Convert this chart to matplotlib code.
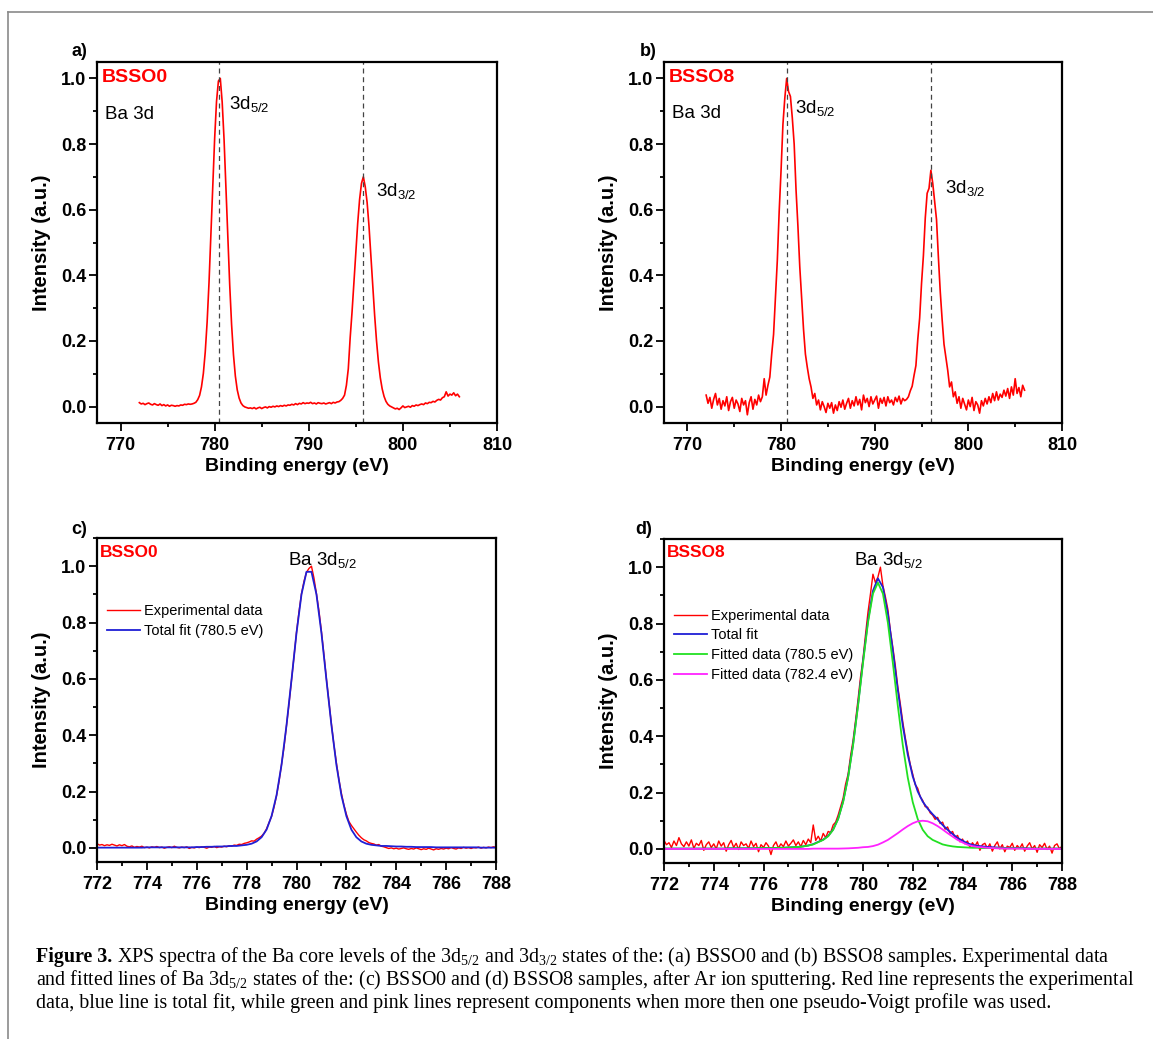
import numpy as np
import matplotlib
matplotlib.use("Agg")
import matplotlib.pyplot as plt
from matplotlib.lines import Line2D
from matplotlib.ticker import MultipleLocator, FormatStrFormatter

plt.rcParams['font.family'] = ['Liberation Sans', 'DejaVu Sans']
plt.rcParams['mathtext.default'] = 'regular'

# ---------------- data ----------------
# (a)/(b) survey of Ba 3d, 0.2 eV step
energy_wide = np.round(np.arange(772.0, 806.0 + 1e-6, 0.2), 1)
int_bsso0_wide = [
    0.012, 0.008, 0.010, 0.006, 0.009, 0.011, 0.007, 0.005, 0.009, 0.006,
    0.004, 0.008, 0.003, 0.006, 0.002, 0.005, 0.001, 0.004, 0.003, 0.001,
    0.003, 0.002, 0.005, 0.004, 0.007, 0.006, 0.008, 0.007, 0.008, 0.010,
    0.013, 0.021, 0.034, 0.060, 0.101, 0.166, 0.257, 0.377, 0.521, 0.673,
    0.817, 0.930, 0.992, 1.000, 0.928, 0.814, 0.668, 0.515, 0.371, 0.250,
    0.158, 0.093, 0.051, 0.026, 0.011, 0.003, -0.001, -0.003, -0.005, -0.004,
    -0.006, -0.003, -0.007, -0.004, -0.002, -0.006, -0.003, -0.001, -0.004, 0.000,
    -0.002, 0.001, -0.001, 0.002, 0.000, 0.003, 0.001, 0.004, 0.002, 0.005,
    0.004, 0.007, 0.005, 0.009, 0.006, 0.010, 0.008, 0.012, 0.009, 0.011,
    0.010, 0.013, 0.009, 0.011, 0.008, 0.012, 0.010, 0.009, 0.011, 0.008,
    0.010, 0.012, 0.009, 0.013, 0.011, 0.014, 0.015, 0.019, 0.025, 0.035,
    0.065, 0.115, 0.210, 0.289, 0.378, 0.470, 0.559, 0.631, 0.680, 0.700,
    0.670, 0.622, 0.550, 0.460, 0.368, 0.278, 0.200, 0.136, 0.088, 0.054,
    0.031, 0.016, 0.007, 0.002, -0.001, -0.004, -0.007, -0.005, -0.009, -0.004,
    0.002, -0.003, -0.001, 0.001, -0.002, 0.003, 0.001, 0.005, 0.003, 0.006,
    0.008, 0.006, 0.011, 0.009, 0.013, 0.012, 0.016, 0.014, 0.019, 0.022,
    0.020, 0.027, 0.030, 0.045, 0.032, 0.038, 0.035, 0.042, 0.033, 0.038,
    0.030,
]
int_bsso8_wide = [
    0.035, 0.010, 0.028, -0.005, 0.022, 0.040, 0.005, 0.025, -0.008, 0.018,
    0.002, 0.030, -0.012, 0.015, 0.028, -0.005, 0.020, 0.008, -0.015, 0.025,
    0.005, 0.018, -0.025, 0.012, 0.030, -0.008, 0.022, 0.005, 0.035, 0.015,
    0.030, 0.085, 0.035, 0.065, 0.090, 0.160, 0.220, 0.335, 0.445, 0.595,
    0.720, 0.860, 0.940, 1.000, 0.960, 0.945, 0.880, 0.800, 0.660, 0.550,
    0.425, 0.330, 0.235, 0.160, 0.120, 0.085, 0.060, 0.025, 0.040, 0.005,
    0.020, -0.010, 0.015, 0.000, -0.018, 0.010, -0.005, 0.012, -0.020, 0.005,
    -0.012, 0.015, -0.002, 0.020, -0.008, 0.010, 0.025, -0.005, 0.018, 0.002,
    0.030, 0.005, 0.022, -0.010, 0.035, 0.012, 0.025, 0.000, 0.030, 0.008,
    0.020, 0.032, -0.005, 0.025, 0.010, 0.028, 0.002, 0.030, 0.012, 0.020,
    0.005, 0.028, 0.015, 0.032, 0.008, 0.025, 0.018, 0.022, 0.030, 0.048,
    0.062, 0.095, 0.125, 0.205, 0.270, 0.375, 0.460, 0.575, 0.650, 0.665,
    0.720, 0.680, 0.625, 0.570, 0.455, 0.350, 0.265, 0.190, 0.150, 0.110,
    0.060, 0.075, 0.030, 0.045, 0.010, 0.030, -0.005, 0.025, 0.008, -0.010,
    0.020, 0.000, 0.028, -0.012, 0.015, 0.005, -0.020, 0.018, 0.002, 0.025,
    0.008, 0.030, 0.012, 0.040, 0.018, 0.045, 0.020, 0.038, 0.028, 0.050,
    0.032, 0.055, 0.025, 0.060, 0.035, 0.085, 0.040, 0.058, 0.030, 0.065,
    0.050,
]
peak_lines_bsso0 = [780.5, 795.8]
peak_lines_bsso8 = [780.6, 796.0]

# (c)/(d) Ba 3d5/2 after sputtering
energy_exp = np.round(np.arange(772.0, 788.0 + 1e-6, 0.1), 1)
energy_fit = np.round(np.arange(772.0, 788.0 + 1e-6, 0.2), 1)

exp_bsso0 = [
    0.015, 0.010, 0.012, 0.008, 0.011, 0.009, 0.013, 0.010, 0.007, 0.011,
    0.008, 0.012, 0.006, 0.004, 0.007, 0.002, 0.005, 0.003, 0.006, 0.001,
    0.003, 0.000, 0.004, 0.002, 0.005, 0.001, 0.003, -0.001, 0.002, 0.004,
    0.001, 0.006, 0.002, 0.000, 0.003, 0.001, 0.004, -0.002, 0.002, 0.000,
    0.003, 0.001, 0.004, 0.002, -0.001, 0.003, 0.002, 0.005, 0.001, 0.004,
    0.003, 0.006, 0.004, 0.008, 0.006, 0.010, 0.009, 0.013, 0.012, 0.016,
    0.018, 0.021, 0.025, 0.024, 0.031, 0.036, 0.042, 0.052, 0.068, 0.090,
    0.112, 0.145, 0.186, 0.236, 0.297, 0.358, 0.434, 0.512, 0.594, 0.679,
    0.765, 0.838, 0.902, 0.946, 0.978, 0.992, 1.000, 0.958, 0.902, 0.842,
    0.768, 0.686, 0.600, 0.520, 0.440, 0.366, 0.302, 0.243, 0.194, 0.153,
    0.120, 0.094, 0.080, 0.068, 0.056, 0.045, 0.036, 0.029, 0.025, 0.019,
    0.016, 0.014, 0.010, 0.012, 0.006, 0.004, 0.001, -0.002, 0.000, -0.003,
    -0.001, -0.004, -0.002, 0.000, -0.003, -0.005, -0.002, -0.004, 0.000, -0.003,
    -0.006, -0.003, -0.005, -0.001, -0.004, -0.007, -0.003, -0.005, -0.002, -0.004,
    -0.001, -0.003, 0.001, -0.002, -0.004, 0.000, -0.002, 0.002, -0.001, 0.001,
    -0.002, 0.001, 0.000, 0.003, -0.001, 0.002, 0.000, 0.003, 0.001, 0.004,
    0.002,
]
fit_bsso0 = [
    0.001, 0.001, 0.001, 0.001, 0.001, 0.001, 0.001, 0.001, 0.001, 0.001,
    0.002, 0.002, 0.002, 0.002, 0.002, 0.002, 0.002, 0.002, 0.002, 0.002,
    0.003, 0.003, 0.004, 0.004, 0.005, 0.005, 0.006, 0.007, 0.007, 0.009,
    0.011, 0.015, 0.023, 0.038, 0.065, 0.113, 0.187, 0.295, 0.436, 0.597,
    0.763, 0.900, 0.980, 0.980, 0.900, 0.763, 0.597, 0.436, 0.295, 0.187,
    0.113, 0.065, 0.038, 0.023, 0.015, 0.011, 0.009, 0.007, 0.007, 0.006,
    0.005, 0.005, 0.004, 0.004, 0.003, 0.003, 0.003, 0.003, 0.002, 0.002,
    0.002, 0.002, 0.002, 0.002, 0.002, 0.002, 0.002, 0.001, 0.001, 0.001,
    0.001,
]
exp_bsso8 = [
    0.030, 0.015, 0.022, 0.005, 0.028, 0.012, 0.040, 0.018, 0.008, 0.025,
    0.010, 0.032, 0.002, 0.020, 0.012, 0.030, -0.005, 0.015, 0.025, 0.005,
    0.018, 0.000, 0.028, 0.010, 0.022, -0.008, 0.015, 0.030, 0.005, 0.020,
    -0.002, 0.025, 0.012, 0.018, 0.002, 0.028, 0.008, 0.020, -0.010, 0.015,
    0.005, 0.022, 0.010, -0.020, 0.012, 0.025, 0.003, 0.018, 0.008, 0.028,
    0.010, 0.020, 0.032, 0.012, 0.025, 0.008, 0.030, 0.015, 0.035, 0.022,
    0.085, 0.030, 0.045, 0.028, 0.055, 0.040, 0.062, 0.058, 0.085, 0.095,
    0.120, 0.150, 0.180, 0.230, 0.265, 0.330, 0.385, 0.455, 0.530, 0.610,
    0.675, 0.760, 0.840, 0.905, 0.975, 0.945, 0.965, 1.000, 0.935, 0.895,
    0.850, 0.775, 0.715, 0.650, 0.575, 0.515, 0.450, 0.395, 0.345, 0.300,
    0.265, 0.228, 0.215, 0.185, 0.172, 0.150, 0.148, 0.128, 0.120, 0.105,
    0.112, 0.090, 0.095, 0.070, 0.078, 0.055, 0.062, 0.040, 0.048, 0.025,
    0.035, 0.018, 0.028, 0.005, 0.022, 0.010, 0.025, -0.005, 0.015, 0.020,
    0.002, 0.018, -0.008, 0.012, 0.025, 0.000, 0.015, -0.010, 0.010, 0.005,
    0.020, -0.005, 0.012, 0.002, 0.018, -0.008, 0.010, 0.022, 0.000, 0.012,
    -0.012, 0.015, 0.005, 0.020, -0.002, 0.010, -0.015, 0.012, 0.018, 0.000,
    0.010,
]
fit_bsso8_total = [
    0.001, 0.001, 0.001, 0.001, 0.001, 0.001, 0.001, 0.001, 0.001, 0.001,
    0.001, 0.001, 0.001, 0.002, 0.002, 0.002, 0.002, 0.002, 0.002, 0.003,
    0.003, 0.003, 0.003, 0.004, 0.004, 0.005, 0.006, 0.007, 0.009, 0.012,
    0.017, 0.025, 0.033, 0.046, 0.069, 0.107, 0.168, 0.255, 0.371, 0.512,
    0.666, 0.810, 0.916, 0.960, 0.929, 0.835, 0.704, 0.564, 0.437, 0.334,
    0.257, 0.204, 0.168, 0.143, 0.123, 0.105, 0.085, 0.068, 0.053, 0.039,
    0.029, 0.020, 0.014, 0.011, 0.009, 0.007, 0.006, 0.005, 0.004, 0.003,
    0.003, 0.003, 0.003, 0.002, 0.001, 0.001, 0.001, 0.001, 0.001, 0.001,
    0.001,
]
fit_bsso8_780 = [
    0.001, 0.001, 0.001, 0.001, 0.001, 0.001, 0.001, 0.001, 0.001, 0.001,
    0.001, 0.001, 0.001, 0.002, 0.002, 0.002, 0.002, 0.002, 0.002, 0.003,
    0.003, 0.003, 0.003, 0.004, 0.004, 0.005, 0.006, 0.007, 0.009, 0.012,
    0.016, 0.024, 0.032, 0.045, 0.068, 0.106, 0.166, 0.253, 0.368, 0.508,
    0.660, 0.803, 0.906, 0.945, 0.906, 0.803, 0.660, 0.508, 0.368, 0.253,
    0.166, 0.106, 0.068, 0.045, 0.032, 0.024, 0.016, 0.012, 0.009, 0.007,
    0.006, 0.005, 0.004, 0.004, 0.003, 0.003, 0.003, 0.003, 0.002, 0.002,
    0.002, 0.002, 0.002, 0.001, 0.001, 0.001, 0.001, 0.001, 0.001, 0.001,
    0.001,
]
fit_bsso8_782 = [
    0.0, 0.0, 0.0, 0.0, 0.0, 0.0, 0.0, 0.0, 0.0, 0.0,
    0.0, 0.0, 0.0, 0.0, 0.0, 0.0, 0.0, 0.0, 0.0, 0.0,
    0.0, 0.0, 0.0, 0.0, 0.0, 0.0, 0.0, 0.0, 0.0, 0.0,
    0.001, 0.001, 0.001, 0.001, 0.001, 0.001, 0.0015, 0.002, 0.003, 0.004,
    0.006, 0.007, 0.010, 0.015, 0.023, 0.032, 0.044, 0.056, 0.069, 0.081,
    0.091, 0.098, 0.100, 0.098, 0.091, 0.081, 0.069, 0.056, 0.044, 0.032,
    0.023, 0.015, 0.010, 0.007, 0.006, 0.004, 0.003, 0.002, 0.0015, 0.001,
    0.001, 0.001, 0.001, 0.0, 0.0, 0.0, 0.0, 0.0, 0.0, 0.0,
    0.0,
]

# ---------------- figure ----------------
W, H = 1153, 1039
fig = plt.figure(figsize=(W / 100, H / 100), dpi=100)


def px_axes(l, t, r, b):
    return fig.add_axes([l / W, 1 - b / H, (r - l) / W, (b - t) / H])


def style(ax, xlim, ylim, xmaj, xmin):
    ax.set_xlim(*xlim)
    ax.set_ylim(*ylim)
    ax.xaxis.set_major_locator(MultipleLocator(xmaj))
    ax.xaxis.set_minor_locator(MultipleLocator(xmin))
    ax.yaxis.set_major_locator(MultipleLocator(0.2))
    ax.yaxis.set_minor_locator(MultipleLocator(0.1))
    ax.xaxis.set_major_formatter(FormatStrFormatter('%d'))
    ax.yaxis.set_major_formatter(FormatStrFormatter('%.1f'))
    ax.tick_params(which='both', direction='out', top=False, right=False, width=1.3)
    ax.tick_params(which='major', length=5.5, labelsize=13)
    ax.tick_params(which='minor', length=3)
    ax.tick_params(axis='x', pad=4.5)
    ax.tick_params(axis='y', pad=2)
    for lab in ax.get_xticklabels() + ax.get_yticklabels():
        lab.set_fontweight('bold')
    for s in ax.spines.values():
        s.set_linewidth(1.6)
    ax.set_ylabel('Intensity (a.u.)', fontsize=14.5, fontweight='bold', labelpad=7)
    ax.set_xlabel('Binding energy (eV)', fontsize=14, fontweight='bold', labelpad=3)


RED = '#ff0000'
BLUE = '#1f1fd6'
GREEN = '#22e022'
MAGENTA = '#ff22ff'
LEG_KW = dict(loc='upper left', frameon=False, fontsize=10.5, handlelength=2.25,
              handletextpad=0.3, labelspacing=0.4, borderpad=0, borderaxespad=0)

# ---- (a)
axa = px_axes(97, 62, 497, 423)
axa.plot(energy_wide, int_bsso0_wide, color=RED, lw=1.2)
for xv in peak_lines_bsso0:
    axa.axvline(xv, color='#444444', lw=0.9, ls=(0, (4, 3)))
style(axa, (767.5, 810), (-0.05, 1.05), 10, 5)
axa.text(768.0, 0.99, 'BSSO0', color=RED, fontsize=14, fontweight='bold', va='baseline')
axa.text(768.3, 0.877, 'Ba 3d', fontsize=13.5, va='baseline')
axa.text(781.5, 0.908, r'3d$_{5/2}$', fontsize=13.5, va='baseline')
axa.text(797.1, 0.642, r'3d$_{3/2}$', fontsize=13.5, va='baseline')

# ---- (b)
axb = px_axes(664, 62, 1062, 423)
axb.plot(energy_wide, int_bsso8_wide, color=RED, lw=1.2)
for xv in peak_lines_bsso8:
    axb.axvline(xv, color='#444444', lw=0.9, ls=(0, (4, 3)))
style(axb, (767.5, 810), (-0.05, 1.05), 10, 5)
axb.text(768.0, 0.99, 'BSSO8', color=RED, fontsize=14, fontweight='bold', va='baseline')
axb.text(768.4, 0.88, 'Ba 3d', fontsize=13.5, va='baseline')
axb.text(781.45, 0.895, r'3d$_{5/2}$', fontsize=13.5, va='baseline')
axb.text(797.55, 0.650, r'3d$_{3/2}$', fontsize=13.5, va='baseline')

# ---- (c)
axc = px_axes(97, 538, 496, 862)
hc1, = axc.plot(energy_exp, exp_bsso0, color=RED, lw=1.0, label='Experimental data')
hc2, = axc.plot(energy_fit, fit_bsso0, color=BLUE, lw=1.3, label='Total fit (780.5 eV)')
style(axc, (772, 788), (-0.05, 1.1), 2, 1)
axc.text(772.12, 1.033, 'BSSO0', color=RED, fontsize=12.5, fontweight='bold', va='baseline')
axc.text(779.66, 1.004, r'Ba 3d$_{5/2}$', fontsize=13.5, va='baseline')
axc.legend(handles=[hc1, hc2], bbox_to_anchor=(0.025, 0.795), **LEG_KW)

# ---- (d)
axd = px_axes(664, 539, 1062, 863)
hd1, = axd.plot(energy_exp, exp_bsso8, color=RED, lw=1.0, label='Experimental data')
hd2, = axd.plot(energy_fit, fit_bsso8_total, color=BLUE, lw=1.3, label='Total fit')
hd3, = axd.plot(energy_fit, fit_bsso8_780, color=GREEN, lw=1.3, label='Fitted data (780.5 eV)')
hd4, = axd.plot(energy_fit, fit_bsso8_782, color=MAGENTA, lw=1.3, label='Fitted data (782.4 eV)')
style(axd, (772, 788), (-0.05, 1.1), 2, 1)
axd.text(772.13, 1.035, 'BSSO8', color=RED, fontsize=12.5, fontweight='bold', va='baseline')
axd.text(779.64, 1.008, r'Ba 3d$_{5/2}$', fontsize=13.5, va='baseline')
axd.legend(handles=[hd1, hd2, hd3, hd4], bbox_to_anchor=(0.025, 0.785), **LEG_KW)

# panel letters
for lab, (x, y) in zip(['a)', 'b)', 'c)', 'd)'], [(79, 51), (648, 51), (79, 530), (644, 530)]):
    fig.text(x / W, 1 - y / H, lab, fontsize=13, fontweight='bold', ha='center', va='center')

# frame lines of the figure page
fig.add_artist(Line2D([8 / W, 1.0], [1 - 12 / H, 1 - 12 / H], transform=fig.transFigure,
                      color='#8a8a8a', lw=1.2))
fig.add_artist(Line2D([8 / W, 8 / W], [0.0, 1 - 12 / H], transform=fig.transFigure,
                      color='#8a8a8a', lw=1.2))

# caption
cap_bold = 'Figure 3.'
cap1 = (' XPS spectra of the Ba core levels of the 3d$_{5/2}$ and 3d$_{3/2}$ states of the: '
        '(a) BSSO0 and (b) BSSO8 samples. Experimental data')
cap2 = ('and fitted lines of Ba 3d$_{5/2}$ states of the: (c) BSSO0 and (d) BSSO8 samples, '
        'after Ar ion sputtering. Red line represents the experimental')
cap3 = ('data, blue line is total fit, while green and pink lines represent components '
        'when more then one pseudo-Voigt profile was used.')

serif = ['Liberation Serif', 'DejaVu Serif']
renderer = fig.canvas.get_renderer()
probe = fig.text(0, 0, cap2, family=serif, fontsize=12)
w12 = probe.get_window_extent(renderer=renderer).width
probe.remove()
fs = 12 * (1133 - 36) / w12

x0 = 36 / W
base = [962, 985, 1008]
tb = fig.text(x0, 1 - base[0] / H, cap_bold, family=serif, fontsize=fs, fontweight='bold',
              va='baseline')
wb = tb.get_window_extent(renderer=renderer).width
fig.text((36 + wb) / W, 1 - base[0] / H, cap1, family=serif, fontsize=fs, va='baseline')
fig.text(x0, 1 - base[1] / H, cap2, family=serif, fontsize=fs, va='baseline')
fig.text(x0, 1 - base[2] / H, cap3, family=serif, fontsize=fs, va='baseline')

fig.savefig('out.png', dpi=100)
